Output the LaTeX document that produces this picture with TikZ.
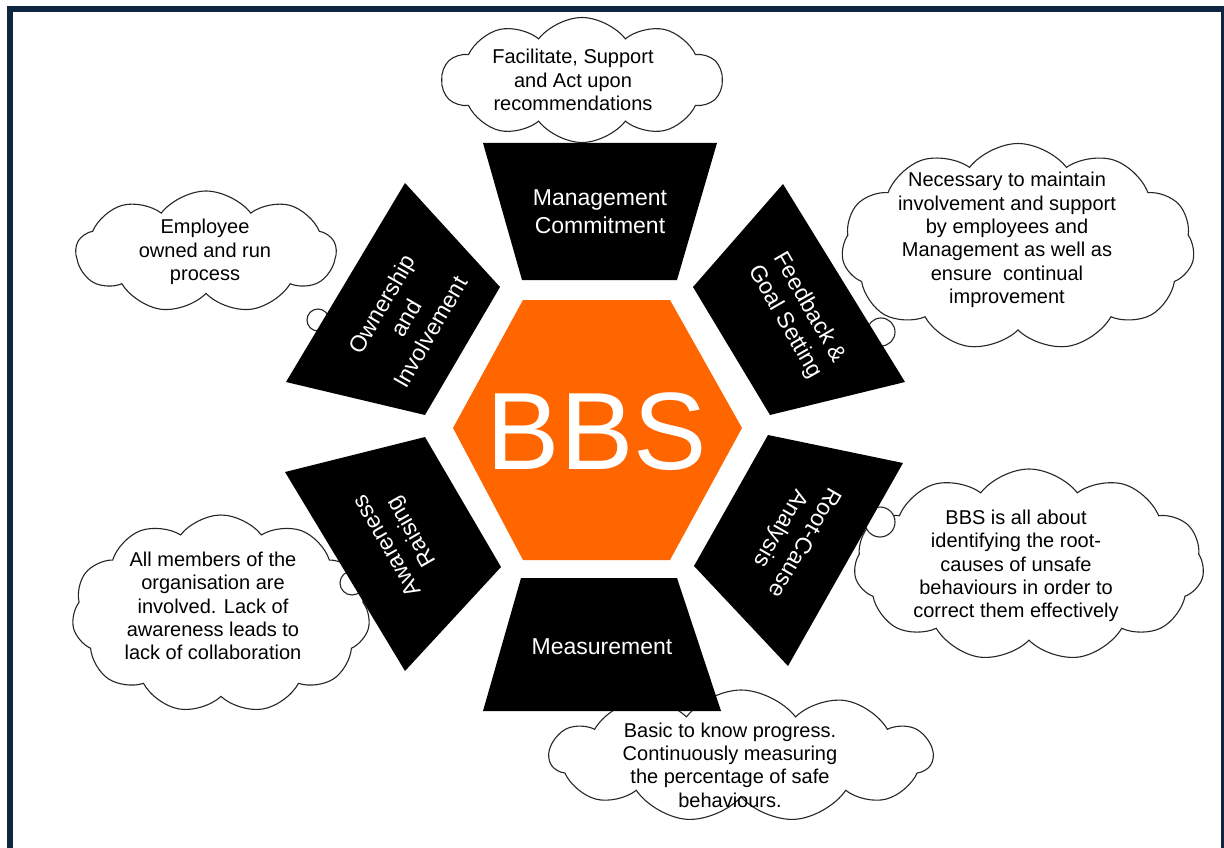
\documentclass[tikz,border=0pt]{standalone}
\usepackage{fontspec}
\setmainfont{Liberation Sans}
\usetikzlibrary{shapes.symbols}
\definecolor{framenavy}{HTML}{10253F}
\definecolor{bbsorange}{HTML}{FF6600}
\tikzset{
  cloudshape/.style={cloud, cloud ignores aspect, cloud puff arc=105, draw=black!85, line width=1.1pt, fill=white, inner sep=0pt},
  cloudtext/.style={align=center, font=\fontsize{20}{23.3}\selectfont, text=black},
  boxtext/.style={align=center, font=\fontsize{23}{28}\selectfont, text=white},
  pillar/.style={fill=black},
  bubble/.style={circle, draw=black!85, line width=1.1pt, fill=white, inner sep=0pt},
}
\begin{document}
\begin{tikzpicture}[x=1pt,y=-1pt]
\useasboundingbox (0,0) rectangle (1224,848);
\fill[white] (0,0) rectangle (1224,848);
% frame
\fill[framenavy] (7,6) rectangle (12.5,848);
\fill[framenavy] (7,6) rectangle (1224,12);
\fill[framenavy] (1221,6) rectangle (1224,848);

% clouds
\node[cloudshape, cloud puffs=10, minimum width=280pt, minimum height=125pt] (c1) at (582,80) {};
\node[cloudshape, cloud puffs=9, minimum width=260pt, minimum height=122pt] (c2) at (206,252) {};
\node[cloudshape, cloud puffs=11, minimum width=353pt, minimum height=207pt] (c3) at (1018,247) {};
\node[cloudshape, cloud puffs=11, minimum width=350pt, minimum height=192pt] (c4) at (1029,565) {};
\node[cloudshape, cloud puffs=11, minimum width=298pt, minimum height=198pt] (c5) at (221,614) {};
\node[cloudshape, cloud puffs=11, minimum width=383pt, minimum height=132pt] (c6) at (741,756) {};

% small thought bubbles
\node[bubble, minimum size=22pt] (b1) at (318,320) {};
\node[bubble, minimum size=28pt] (b2) at (881,332) {};
\node[bubble, minimum size=30pt] (b3) at (880,522) {};
\node[bubble, minimum size=24pt] (b4) at (352,583) {};

% pillars
\fill[pillar] (483,143) -- (717,143) -- (677,280) -- (522,280) -- cycle;
\fill[pillar] (783,184) -- (905,382) -- (770,415) -- (693,287) -- cycle;
\fill[pillar] (768,435) -- (903,463) -- (788,666) -- (694,566) -- cycle;
\fill[pillar] (521,578) -- (677,578) -- (721,711) -- (483,711) -- cycle;
\fill[pillar] (425,437) -- (501,567) -- (405,671) -- (285,472) -- cycle;
\fill[pillar] (405,183) -- (500,287) -- (425,415) -- (286,382) -- cycle;

% hexagon
\fill[bbsorange] (523,300) -- (670,300) -- (742,428) -- (670,560) -- (523,560) -- (453,428) -- cycle;
\node[text=white, font=\fontsize{110}{110}\selectfont, inner sep=0pt] (bbs) at (597,432) {BBS};

% pillar texts
\node[boxtext] (mc) at (600,212) {Management\\Commitment};
\node[boxtext] (ms) at (602,647) {Measurement};
\node[boxtext, rotate=60] (oi) at (406,318) {Ownership\\and\\Involvement};
\node[boxtext, rotate=-60] (fg) at (797,315) {Feedback \&\\Goal Setting};
\node[boxtext, rotate=-120] (rc) at (792,535) {Root-Cause\\Analysis};
\node[boxtext, rotate=120] (ar) at (400,538) {Awareness\\Raising};

% cloud texts
\node[cloudtext] (t1) at (573,80) {Facilitate, Support\\and Act upon\\recommendations};
\node[cloudtext] (t2) at (205,252) {Employee\\owned and run\\process};
\node[cloudtext] (t3) at (1007,240) {Necessary to maintain\\involvement and support\\by employees and\\Management as well as\\ensure\ \ continual\\improvement};
\node[cloudtext] (t4) at (1016,566) {BBS is all about\\identifying the root-\\causes of unsafe\\behaviours in order to\\correct them effectively};
\node[cloudtext] (t5) at (213,606) {All members of the\\organisation are\\involved. Lack of\\awareness leads to\\lack of collaboration};
\node[cloudtext] (t6) at (730,765) {Basic to know progress.\\Continuously measuring\\the percentage of safe\\behaviours.};
\end{tikzpicture}
\end{document}
